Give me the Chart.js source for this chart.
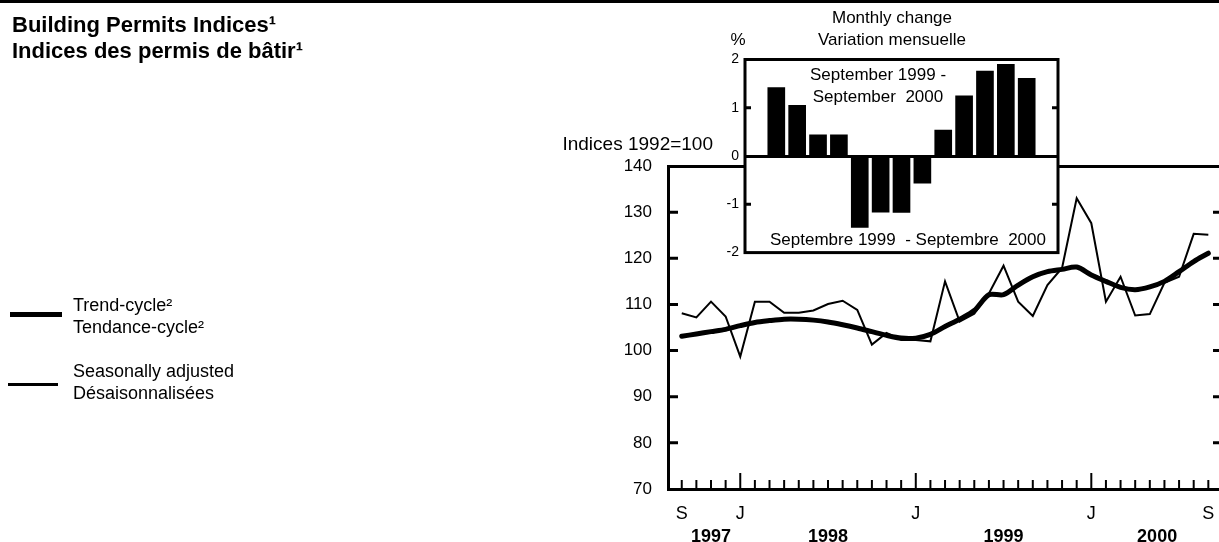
<!DOCTYPE html>
<html>
<head>
<meta charset="utf-8">
<script src="https://cdn.jsdelivr.net/npm/chart.js@4.4.0/dist/chart.umd.min.js"></script>
<style>
  body { margin: 0; background: #fff; color: #000; font-family: "Liberation Sans", Arial, sans-serif; }
  #page { position: relative; width: 1219px; height: 542px; overflow: hidden; }
  .txt { position: absolute; white-space: pre; line-height: 22px; font-size: 17px; }
  .bar { position: absolute; background: #000; }
  #mainChart { position: absolute; left: 0; top: 0; }
  #insetChart { position: absolute; left: 690px; top: 45px; }
</style>
</head>
<body>
<div id="page">
  <canvas id="mainChart" width="1219" height="542"></canvas>
  <canvas id="insetChart" width="380" height="222"></canvas>

  <div class="bar" style="left:0;top:0;width:1219px;height:3px"></div>

  <div class="txt" style="left:12px;top:12px;font-size:22px;line-height:26px;font-weight:bold">Building Permits Indices¹</div>
  <div class="txt" style="left:12px;top:38px;font-size:22px;line-height:26px;font-weight:bold">Indices des permis de bâtir¹</div>

  <div class="bar" style="left:10px;top:312px;width:52px;height:5px"></div>
  <div class="txt" style="left:73px;top:294px;font-size:18px">Trend-cycle²</div>
  <div class="txt" style="left:73px;top:316px;font-size:18px">Tendance-cycle²</div>
  <div class="bar" style="left:8px;top:383px;width:50px;height:3px"></div>
  <div class="txt" style="left:73px;top:360px;font-size:18px">Seasonally adjusted</div>
  <div class="txt" style="left:73px;top:382px;font-size:18px">Désaisonnalisées</div>

  <div class="txt" style="left:500px;top:133px;width:213px;text-align:right;font-size:19px">Indices 1992=100</div>

  <div class="txt" style="left:792px;top:7px;width:200px;text-align:center">Monthly change</div>
  <div class="txt" style="left:792px;top:29px;width:200px;text-align:center">Variation mensuelle</div>
  <div class="txt" style="left:728px;top:29px;width:20px;text-align:center">%</div>

  <div class="txt" style="left:778px;top:64px;width:200px;text-align:center">September 1999 -</div>
  <div class="txt" style="left:778px;top:86px;width:200px;text-align:center">September  2000</div>
  <div class="txt" style="left:758px;top:229px;width:300px;text-align:center">Septembre 1999  - Septembre  2000</div>
</div>

<script>
// monthly periods, Sept 1997 - Sept 2000
const periods = [
  '1997-09', '1997-10', '1997-11', '1997-12',
  '1998-01', '1998-02', '1998-03', '1998-04', '1998-05', '1998-06',
  '1998-07', '1998-08', '1998-09', '1998-10', '1998-11', '1998-12',
  '1999-01', '1999-02', '1999-03', '1999-04', '1999-05', '1999-06',
  '1999-07', '1999-08', '1999-09', '1999-10', '1999-11', '1999-12',
  '2000-01', '2000-02', '2000-03', '2000-04', '2000-05', '2000-06',
  '2000-07', '2000-08', '2000-09'
];
const seasonallyAdjusted = [
  108.1, 107.2, 110.6, 107.4,
  98.7, 110.6, 110.6, 108.2, 108.2, 108.7,
  110.1, 110.8, 108.8, 101.3, 103.8, 102.3,
  102.3, 102.0, 115.0, 106.3, 108.0, 112.4,
  118.4, 110.6, 107.5, 114.2, 117.9, 133.0,
  127.6, 110.6, 116.0, 107.6, 107.9, 114.7,
  116.0, 125.3, 125.1
];
const trendCycle = [
  103.1, 103.6, 104.1, 104.6,
  105.4, 106.1, 106.5, 106.8, 106.8, 106.6,
  106.2, 105.6, 104.9, 104.1, 103.3, 102.7,
  102.7, 103.5, 105.2, 106.8, 108.7, 112.1,
  112.1, 114.2, 116.0, 117.1, 117.6, 118.1,
  116.4, 115.0, 113.7, 113.2, 113.8, 115.0,
  117.1, 119.3, 121.1
];
const indexTicks = [70, 80, 90, 100, 110, 120, 130, 140];

// inset: monthly % change, Sept 1999 - Sept 2000
const insetPeriods = [
  '1999-09', '1999-10', '1999-11', '1999-12', '2000-01', '2000-02', '2000-03',
  '2000-04', '2000-05', '2000-06', '2000-07', '2000-08', '2000-09'
];
const monthlyChange = [1.42, 1.05, 0.44, 0.44, -1.48, -1.16, -1.17, -0.56, 0.54, 1.25, 1.76, 1.90, 1.61];
const changeTicks = [-2, -1, 0, 1, 2];

const MONTH_LETTERS = 'JFMAMJJASOND';
const monthLetters = periods.map(p => MONTH_LETTERS[parseInt(p.slice(5), 10) - 1]);
const isJanuary = periods.map(p => p.endsWith('-01'));
const labelled = periods.map((p, i) => i === 0 || i === periods.length - 1 || isJanuary[i]);

// year label sits in the middle of its months
const yearLabels = [...new Set(periods.map(p => p.slice(0, 4)))];
const yearCenters = yearLabels.map(y => {
  const idx = periods.map((p, i) => p.startsWith(y) ? i : -1).filter(i => i >= 0);
  return (idx[0] + idx[idx.length - 1] + 1) / 2;
});

Chart.defaults.font.family = '"Liberation Sans", Arial, sans-serif';
Chart.defaults.color = '#000';

const insideTicks = {
    id: 'insideTicks',
    afterDraw(chart) {
        const { ctx, chartArea: a, scales: { x, y } } = chart;
        ctx.save();
        ctx.strokeStyle = '#000';
        ctx.lineWidth = 3;
        indexTicks.slice(1, -1).forEach(v => {
            const py = y.getPixelForValue(v);
            ctx.beginPath();
            ctx.moveTo(a.left, py); ctx.lineTo(a.left + 10, py);
            ctx.moveTo(a.right - 6, py); ctx.lineTo(a.right, py);
            ctx.stroke();
        });
        ctx.lineWidth = 2;
        periods.forEach((p, i) => {
            const px = x.getPixelForValue(i);
            const h = isJanuary[i] ? 16 : 9;
            ctx.beginPath();
            ctx.moveTo(px, a.bottom); ctx.lineTo(px, a.bottom - h);
            ctx.stroke();
        });
        ctx.restore();
    }
};

const noSidePadding = s => { s.paddingLeft = 0; s.paddingRight = 0; };

new Chart(document.getElementById('mainChart'), {
    type: 'line',
    data: {
        datasets: [
            {
                label: 'Seasonally adjusted',
                data: seasonallyAdjusted.map((v, i) => ({ x: i, y: v })),
                borderColor: '#000',
                borderWidth: 2,
                pointRadius: 0,
                tension: 0
            },
            {
                label: 'Trend-cycle',
                data: trendCycle.map((v, i) => ({ x: i, y: v })),
                borderColor: '#000',
                borderWidth: 5,
                pointRadius: 0,
                tension: 0.3,
                borderCapStyle: 'round'
            }
        ]
    },
    plugins: [insideTicks],
    options: {
        responsive: false,
        animation: false,
        layout: { padding: { top: 166, left: 0, right: 0, bottom: 0 } },
        plugins: { legend: { display: false }, tooltip: { enabled: false } },
        scales: {
            x: {
                type: 'linear',
                min: -0.94,
                max: 36.73,
                weight: 0,
                afterBuildTicks: s => { s.ticks = periods.map((p, i) => ({ value: i })).filter(t => labelled[t.value]); },
                afterFit: s => { s.height = 33; noSidePadding(s); },
                ticks: { autoSkip: false, maxRotation: 0, padding: 14, font: { size: 18 }, callback: v => monthLetters[v] },
                grid: { display: false, drawTicks: false },
                border: { display: true, color: '#000', width: 3 }
            },
            years: {
                type: 'linear',
                position: 'bottom',
                min: -0.94,
                max: 36.73,
                weight: 1,
                afterBuildTicks: s => { s.ticks = yearCenters.map(c => ({ value: c })); },
                afterFit: s => { s.height = 20; noSidePadding(s); },
                ticks: { autoSkip: false, maxRotation: 0, padding: 4, font: { size: 18, weight: 'bold' }, callback: (v, i) => yearLabels[i] },
                grid: { display: false, drawTicks: false },
                border: { display: false }
            },
            y: {
                min: 70,
                max: 140,
                afterBuildTicks: s => { s.ticks = indexTicks.map(v => ({ value: v })); },
                afterFit: s => { s.width = 668; },
                ticks: { padding: 16, font: { size: 17 } },
                grid: {
                    drawTicks: false,
                    color: c => (c.tick && c.tick.value === 140) ? '#000' : 'rgba(0,0,0,0)',
                    lineWidth: 3
                },
                border: { display: true, color: '#000', width: 3 }
            }
        }
    }
});

const insetFrame = {
    id: 'insetFrame',
    beforeDraw(chart) {
        const { ctx, chartArea: a } = chart;
        ctx.save();
        ctx.fillStyle = '#fff';
        ctx.fillRect(a.left, a.top, a.right - a.left, a.bottom - a.top);
        ctx.restore();
    },
    afterDraw(chart) {
        const { ctx, chartArea: a, scales: { y } } = chart;
        ctx.save();
        ctx.strokeStyle = '#000';
        ctx.lineWidth = 3;
        ctx.strokeRect(a.left, a.top, a.right - a.left, a.bottom - a.top);
        [-1, 1].forEach(v => {
            const py = y.getPixelForValue(v);
            ctx.beginPath();
            ctx.moveTo(a.left, py); ctx.lineTo(a.left + 6, py);
            ctx.moveTo(a.right - 6, py); ctx.lineTo(a.right, py);
            ctx.stroke();
        });
        ctx.restore();
    }
};

new Chart(document.getElementById('insetChart'), {
    type: 'bar',
    data: {
        datasets: [{
            label: 'Monthly change',
            data: monthlyChange.map((v, i) => ({ x: i, y: v })),
            backgroundColor: '#000',
            borderWidth: 0,
            barThickness: 17
        }]
    },
    plugins: [insetFrame],
    options: {
        responsive: false,
        animation: false,
        layout: { padding: { top: 14.5, left: 0, right: 12, bottom: 11.5 } },
        plugins: { legend: { display: false }, tooltip: { enabled: false } },
        scales: {
            x: { type: 'linear', min: -1.5, max: insetPeriods.length + 0.5, offset: false, display: false },
            y: {
                min: -2,
                max: 2,
                afterBuildTicks: s => { s.ticks = changeTicks.map(v => ({ value: v })); },
                afterFit: s => { s.width = 55; },
                ticks: { padding: 6, font: { size: 14 } },
                grid: {
                    drawTicks: false,
                    color: c => (c.tick && c.tick.value === 0) ? '#000' : 'rgba(0,0,0,0)',
                    lineWidth: 3
                },
                border: { display: false }
            }
        }
    }
});
</script>
</body>
</html>
